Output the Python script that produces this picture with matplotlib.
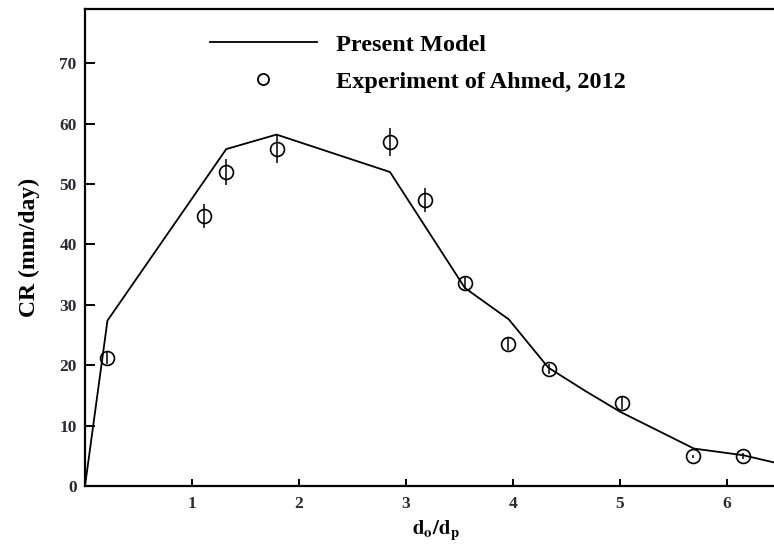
import matplotlib.pyplot as plt
from matplotlib.lines import Line2D

plt.rcParams['font.family'] = ['Liberation Serif', 'DejaVu Serif']
plt.rcParams['mathtext.fontset'] = 'stix'

# present model curve
model_x = [0, 0.21, 1.32, 1.79, 2.85, 3.55, 3.96, 4.33, 4.67, 5.0, 5.69, 6.15, 6.56]
model_y = [0, 27.4, 55.8, 58.2, 52.0, 32.8, 27.6, 19.6, 15.8, 12.3, 6.2, 5.1, 3.4]

# experiment of Ahmed, 2012
exp_x = [0.21, 1.11, 1.32, 1.79, 2.85, 3.18, 3.55, 3.955, 4.34, 5.02, 5.68, 6.15]
exp_y = [21.2, 44.7, 52.0, 55.8, 57.0, 47.3, 33.6, 23.5, 19.4, 13.8, 4.9, 4.9]
exp_err = [1.0, 2.0, 2.2, 2.3, 2.3, 2.0, 1.0, 1.0, 0.8, 1.0, 0.2, 0.5]

xticks = [1, 2, 3, 4, 5, 6]
yticks = [0, 10, 20, 30, 40, 50, 60, 70]

W, H = 774, 544
fig = plt.figure(figsize=(W / 100, H / 100), dpi=100)
ax = fig.add_axes([85 / W, (H - 486) / H, (787 - 85) / W, (486 - 9) / H])

ax.plot(model_x, model_y, color='black', lw=1.3)
ax.errorbar(exp_x, exp_y, yerr=exp_err, fmt='o', ms=10, mfc='none',
            mec='black', mew=1.2, ecolor='black', elinewidth=1.1, capsize=0)

ax.set_xlim(0, 6.56)
ax.set_ylim(0, 79)
ax.set_xticks(xticks)
ax.set_yticks(yticks)

for s in ax.spines.values():
    s.set_linewidth(1.6)
ax.spines['right'].set_visible(False)

ax.tick_params(axis='both', direction='in', width=1.4, colors='black',
               labelcolor='#2a2a35', labelsize=12.5)
ax.tick_params(axis='y', length=7, pad=6)
ax.tick_params(axis='x', length=5, pad=7)
for lab in ax.get_xticklabels() + ax.get_yticklabels():
    lab.set_fontweight('bold')

ax.set_ylabel('CR (mm/day)', fontsize=17, fontweight='bold', labelpad=14)
ax.set_xlabel(r'$\mathbf{d_o/d_p}$', fontsize=15, labelpad=5)

handles = [
    Line2D([], [], color='black', lw=1.3),
    Line2D([], [], ls='none', marker='o', ms=8, mfc='none', mec='black', mew=1.3),
]
ax.legend(handles, ['Present Model', 'Experiment of Ahmed, 2012'],
          loc='upper left', bbox_to_anchor=(0.178, 0.948), frameon=False,
          borderpad=0, borderaxespad=0,
          handlelength=4.4, handletextpad=0.8, labelspacing=0.62,
          prop={'size': 17.5, 'weight': 'bold'})

fig.savefig('out.png', dpi=100)
